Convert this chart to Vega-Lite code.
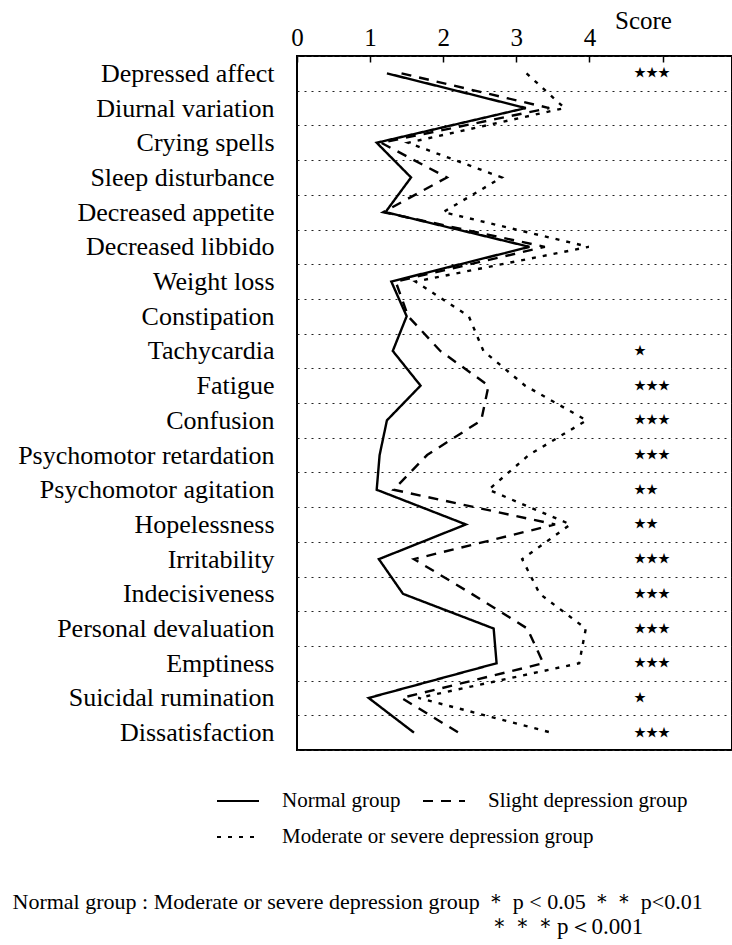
{
  "$schema": "https://vega.github.io/schema/vega-lite/v6.json",
  "width": 435,
  "height": 694,
  "padding": {"left": 12, "top": 8, "right": 0, "bottom": 0},
  "background": "white",
  "config": {
    "view": {"stroke": "black", "strokeWidth": 2},
    "font": "Liberation Serif",
    "axis": {"labelFont": "Liberation Serif", "titleFont": "Liberation Serif", "labelColor": "black", "titleColor": "black"}
  },
  "data": {
    "values": [
      {"item": "Depressed affect", "idx": 0, "group": "Normal group", "score": 1.23, "sig": "★★★"},
      {"item": "Diurnal variation", "idx": 1, "group": "Normal group", "score": 3.13},
      {"item": "Crying spells", "idx": 2, "group": "Normal group", "score": 1.09},
      {"item": "Sleep disturbance", "idx": 3, "group": "Normal group", "score": 1.56},
      {"item": "Decreased appetite", "idx": 4, "group": "Normal group", "score": 1.21},
      {"item": "Decreased libbido", "idx": 5, "group": "Normal group", "score": 3.18},
      {"item": "Weight loss", "idx": 6, "group": "Normal group", "score": 1.29},
      {"item": "Constipation", "idx": 7, "group": "Normal group", "score": 1.50},
      {"item": "Tachycardia", "idx": 8, "group": "Normal group", "score": 1.31, "sig": "★"},
      {"item": "Fatigue", "idx": 9, "group": "Normal group", "score": 1.69, "sig": "★★★"},
      {"item": "Confusion", "idx": 10, "group": "Normal group", "score": 1.23, "sig": "★★★"},
      {"item": "Psychomotor retardation", "idx": 11, "group": "Normal group", "score": 1.13, "sig": "★★★"},
      {"item": "Psychomotor agitation", "idx": 12, "group": "Normal group", "score": 1.09, "sig": "★★"},
      {"item": "Hopelessness", "idx": 13, "group": "Normal group", "score": 2.31, "sig": "★★"},
      {"item": "Irritability", "idx": 14, "group": "Normal group", "score": 1.12, "sig": "★★★"},
      {"item": "Indecisiveness", "idx": 15, "group": "Normal group", "score": 1.45, "sig": "★★★"},
      {"item": "Personal devaluation", "idx": 16, "group": "Normal group", "score": 2.69, "sig": "★★★"},
      {"item": "Emptiness", "idx": 17, "group": "Normal group", "score": 2.73, "sig": "★★★"},
      {"item": "Suicidal rumination", "idx": 18, "group": "Normal group", "score": 0.98, "sig": "★"},
      {"item": "Dissatisfaction", "idx": 19, "group": "Normal group", "score": 1.60, "sig": "★★★"},

      {"item": "Depressed affect", "idx": 0, "group": "Slight depression group", "score": 1.43},
      {"item": "Diurnal variation", "idx": 1, "group": "Slight depression group", "score": 3.45},
      {"item": "Crying spells", "idx": 2, "group": "Slight depression group", "score": 1.15},
      {"item": "Sleep disturbance", "idx": 3, "group": "Slight depression group", "score": 2.05},
      {"item": "Decreased appetite", "idx": 4, "group": "Slight depression group", "score": 1.18},
      {"item": "Decreased libbido", "idx": 5, "group": "Slight depression group", "score": 3.39},
      {"item": "Weight loss", "idx": 6, "group": "Slight depression group", "score": 1.35},
      {"item": "Constipation", "idx": 7, "group": "Slight depression group", "score": 1.52},
      {"item": "Tachycardia", "idx": 8, "group": "Slight depression group", "score": 1.96},
      {"item": "Fatigue", "idx": 9, "group": "Slight depression group", "score": 2.62},
      {"item": "Confusion", "idx": 10, "group": "Slight depression group", "score": 2.52},
      {"item": "Psychomotor retardation", "idx": 11, "group": "Slight depression group", "score": 1.78},
      {"item": "Psychomotor agitation", "idx": 12, "group": "Slight depression group", "score": 1.32},
      {"item": "Hopelessness", "idx": 13, "group": "Slight depression group", "score": 3.53},
      {"item": "Irritability", "idx": 14, "group": "Slight depression group", "score": 1.60},
      {"item": "Indecisiveness", "idx": 15, "group": "Slight depression group", "score": 2.39},
      {"item": "Personal devaluation", "idx": 16, "group": "Slight depression group", "score": 3.15},
      {"item": "Emptiness", "idx": 17, "group": "Slight depression group", "score": 3.37},
      {"item": "Suicidal rumination", "idx": 18, "group": "Slight depression group", "score": 1.43},
      {"item": "Dissatisfaction", "idx": 19, "group": "Slight depression group", "score": 2.21},

      {"item": "Depressed affect", "idx": 0, "group": "Moderate or severe depression group", "score": 3.14},
      {"item": "Diurnal variation", "idx": 1, "group": "Moderate or severe depression group", "score": 3.66},
      {"item": "Crying spells", "idx": 2, "group": "Moderate or severe depression group", "score": 1.52},
      {"item": "Sleep disturbance", "idx": 3, "group": "Moderate or severe depression group", "score": 2.80},
      {"item": "Decreased appetite", "idx": 4, "group": "Moderate or severe depression group", "score": 2.00},
      {"item": "Decreased libbido", "idx": 5, "group": "Moderate or severe depression group", "score": 3.99},
      {"item": "Weight loss", "idx": 6, "group": "Moderate or severe depression group", "score": 1.62},
      {"item": "Constipation", "idx": 7, "group": "Moderate or severe depression group", "score": 2.35},
      {"item": "Tachycardia", "idx": 8, "group": "Moderate or severe depression group", "score": 2.55},
      {"item": "Fatigue", "idx": 9, "group": "Moderate or severe depression group", "score": 3.12},
      {"item": "Confusion", "idx": 10, "group": "Moderate or severe depression group", "score": 3.96},
      {"item": "Psychomotor retardation", "idx": 11, "group": "Moderate or severe depression group", "score": 3.17},
      {"item": "Psychomotor agitation", "idx": 12, "group": "Moderate or severe depression group", "score": 2.62},
      {"item": "Hopelessness", "idx": 13, "group": "Moderate or severe depression group", "score": 3.74},
      {"item": "Irritability", "idx": 14, "group": "Moderate or severe depression group", "score": 3.08},
      {"item": "Indecisiveness", "idx": 15, "group": "Moderate or severe depression group", "score": 3.32},
      {"item": "Personal devaluation", "idx": 16, "group": "Moderate or severe depression group", "score": 3.95},
      {"item": "Emptiness", "idx": 17, "group": "Moderate or severe depression group", "score": 3.86},
      {"item": "Suicidal rumination", "idx": 18, "group": "Moderate or severe depression group", "score": 1.66},
      {"item": "Dissatisfaction", "idx": 19, "group": "Moderate or severe depression group", "score": 3.48}
    ]
  },
  "title": {
    "text": "＊＊＊p＜0.001",
    "orient": "bottom",
    "anchor": "start",
    "frame": "group",
    "dx": 191,
    "offset": 4,
    "fontSize": 23,
    "fontWeight": "normal",
    "font": "Liberation Serif",
    "color": "black",
    "baseline": "top"
  },
  "layer": [
    {
      "transform": [{"filter": "datum.group != 'Moderate or severe depression group'"}],
      "mark": {"type": "line", "color": "black", "strokeWidth": 2.4},
      "encoding": {
        "x": {
          "field": "score",
          "type": "quantitative",
          "scale": {"domain": [0, 5.95], "nice": false, "zero": false},
          "axis": {
            "orient": "top",
            "values": [0, 1, 2, 3, 4, 5],
            "labelExpr": "datum.value <= 4 ? datum.label : ''",
            "labelFontSize": 25,
            "labelFlush": false,
            "grid": false,
            "domain": false,
            "tickSize": -6,
            "tickColor": "black",
            "tickWidth": 1.5,
            "labelPadding": 12,
            "title": "Score",
            "titleFontSize": 25,
            "titleFontWeight": "normal",
            "titleX": 346,
            "titleY": -28,
            "titleAlign": "center",
            "titleBaseline": "alphabetic",
            "titleAngle": 0
          }
        },
        "y": {
          "field": "item",
          "type": "nominal",
          "sort": null,
          "scale": {"type": "band", "paddingInner": 0, "paddingOuter": 0},
          "axis": {
            "title": null,
            "labelFontSize": 26,
            "ticks": false,
            "tickSize": 0,
            "labelPadding": 23,
            "domain": false,
            "grid": true,
            "tickBand": "extent",
            "gridDash": [2, 5],
            "gridColor": "#222222",
            "gridWidth": 1,
            "labelLimit": 400
          }
        },
        "strokeDash": {
          "field": "group",
          "type": "nominal",
          "scale": {
            "domain": ["Normal group", "Slight depression group"],
            "range": [[1, 0], [10, 8]]
          },
          "legend": {
            "title": null,
            "orient": "none",
            "legendX": -81,
            "legendY": 723,
            "direction": "horizontal",
            "symbolType": "stroke",
            "symbolSize": 1764,
            "symbolStrokeWidth": 2,
            "symbolStrokeColor": "black",
            "labelFont": "Liberation Serif",
            "labelFontSize": 21,
            "labelColor": "black",
            "labelOffset": 22,
            "columnPadding": 18,
            "labelLimit": 500
          }
        },
        "order": {"field": "idx"}
      }
    },
    {
      "transform": [{"filter": "datum.group == 'Moderate or severe depression group'"}],
      "mark": {"type": "line", "color": "black", "strokeWidth": 2.4},
      "encoding": {
        "x": {
          "field": "score",
          "type": "quantitative",
          "axis": {
            "orient": "bottom",
            "labels": false,
            "ticks": false,
            "domain": false,
            "grid": false,
            "title": "Normal group : Moderate or severe depression group ＊ p < 0.05 ＊＊ p<0.01",
            "titleFontSize": 22,
            "titleFont": "Liberation Serif",
            "titleFontWeight": "normal",
            "titleX": -285,
            "titleY": 158,
            "titleAlign": "left",
            "titleBaseline": "alphabetic",
            "titleAngle": 0,
            "titleLimit": 730
          }
        },
        "y": {"field": "item", "type": "nominal", "sort": null},
        "strokeDash": {
          "field": "group",
          "type": "nominal",
          "scale": {
            "domain": ["Moderate or severe depression group"],
            "range": [[4, 7]]
          },
          "legend": {
            "title": null,
            "orient": "none",
            "legendX": -81,
            "legendY": 759,
            "direction": "horizontal",
            "symbolType": "stroke",
            "symbolSize": 1764,
            "symbolStrokeWidth": 2,
            "symbolStrokeColor": "black",
            "labelFont": "Liberation Serif",
            "labelFontSize": 21,
            "labelColor": "black",
            "labelOffset": 22,
            "labelLimit": 500
          }
        },
        "order": {"field": "idx"}
      }
    },
    {
      "transform": [{"filter": "datum.sig"}],
      "mark": {"type": "text", "align": "left", "baseline": "middle", "font": "Noto Sans CJK JP", "fontSize": 12, "color": "black"},
      "encoding": {
        "x": {"datum": 4.61, "type": "quantitative", "axis": null},
        "y": {"field": "item", "type": "nominal", "sort": null},
        "text": {"field": "sig"}
      }
    }
  ],
  "resolve": {
    "axis": {"x": "independent"},
    "scale": {"strokeDash": "independent"},
    "legend": {"strokeDash": "independent"}
  }
}
